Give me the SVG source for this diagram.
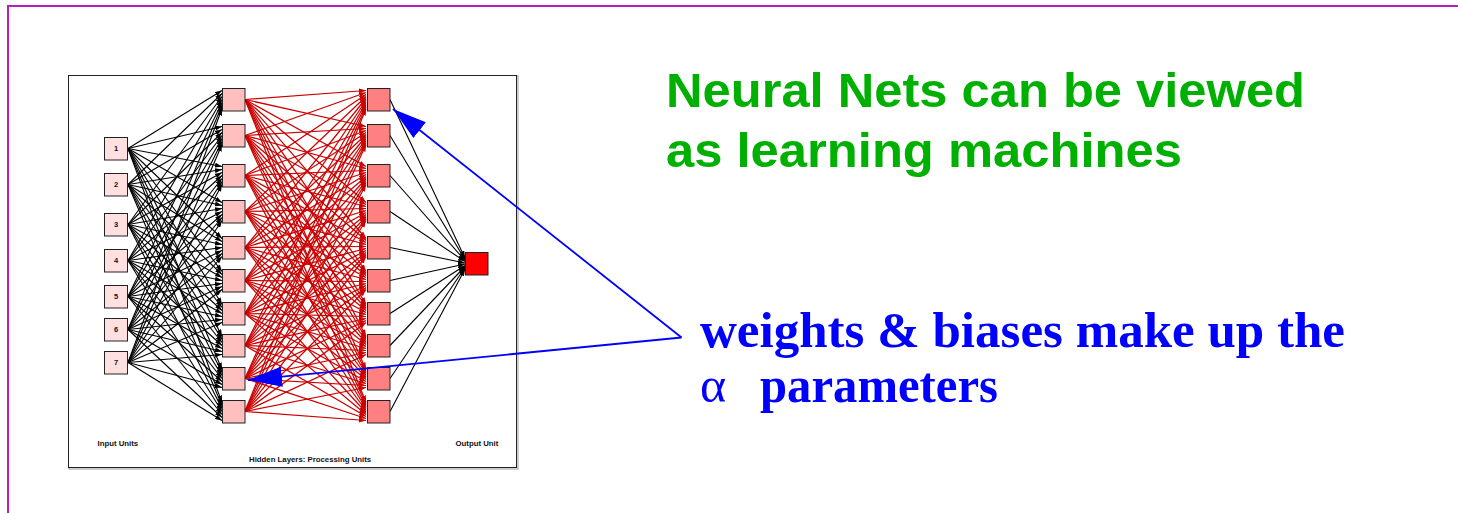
<svg xmlns="http://www.w3.org/2000/svg" width="1458" height="513" viewBox="0 0 1458 513">
<style>
.bl{stroke:#000;stroke-width:1.1;marker-end:url(#ab)}
.rd{stroke:#cc0000;stroke-width:1.25;marker-end:url(#ar)}
.in rect{fill:#ffe0e0;stroke:#222;stroke-width:1}
.h1 rect{fill:#ffbfbf;stroke:#222;stroke-width:1}
.h2 rect{fill:#ff8080;stroke:#222;stroke-width:1}
.num{font-family:"Liberation Sans",Arial,sans-serif;font-weight:bold;font-size:7.5px;fill:#111;text-anchor:middle}
.lab{font-family:"Liberation Sans",Arial,sans-serif;font-weight:bold;font-size:7.8px;fill:#111}
.title{font-family:"Liberation Sans",Arial,sans-serif;font-weight:bold;font-size:49px;fill:#00b000}
.blue{font-family:"Liberation Serif","Times New Roman",serif;font-weight:bold;font-size:50px;fill:#0000ff}
.ba{stroke:#0000ff;stroke-width:1.8;fill:none;marker-end:url(#abig)}
</style>
<defs>
<marker id="ab" markerUnits="userSpaceOnUse" markerWidth="7" markerHeight="5" refX="7" refY="2.5" orient="auto"><path d="M0,0L7,2.5L0,5z" fill="#000"/></marker>
<marker id="ar" markerUnits="userSpaceOnUse" markerWidth="7" markerHeight="5" refX="7" refY="2.5" orient="auto"><path d="M0,0L7,2.5L0,5z" fill="#cc0000"/></marker>
<marker id="abig" markerUnits="userSpaceOnUse" markerWidth="34" markerHeight="20" refX="34" refY="10" orient="auto"><path d="M0,0L34,10L0,20z" fill="#0000ff"/></marker>
</defs>
<rect width="1458" height="513" fill="#fff"/>
<rect x="8" y="6" width="1500" height="600" fill="none" stroke="#b81cc0" stroke-width="2"/>
<rect x="69" y="76" width="449" height="393" fill="none" stroke="#999" stroke-width="1"/>
<rect x="68.5" y="75.5" width="448" height="392" fill="#fff" stroke="#222" stroke-width="1"/>
<g id="connectors">
<g id="input-to-hidden">
<line class="bl" x1="128" y1="148.5" x2="222" y2="90.5"/><line class="bl" x1="128" y1="148.5" x2="222" y2="126.5"/><line class="bl" x1="128" y1="148.5" x2="222" y2="166.5"/><line class="bl" x1="128" y1="148.5" x2="222" y2="202.5"/><line class="bl" x1="128" y1="148.5" x2="222" y2="238.5"/><line class="bl" x1="128" y1="148.5" x2="222" y2="271.5"/><line class="bl" x1="128" y1="148.5" x2="222" y2="304.5"/><line class="bl" x1="128" y1="148.5" x2="222" y2="336.5"/><line class="bl" x1="128" y1="148.5" x2="222" y2="369.5"/><line class="bl" x1="128" y1="148.5" x2="222" y2="402.5"/>
<line class="bl" x1="128" y1="184.5" x2="222" y2="93.5"/><line class="bl" x1="128" y1="184.5" x2="222" y2="129.5"/><line class="bl" x1="128" y1="184.5" x2="222" y2="169.5"/><line class="bl" x1="128" y1="184.5" x2="222" y2="205.5"/><line class="bl" x1="128" y1="184.5" x2="222" y2="241.5"/><line class="bl" x1="128" y1="184.5" x2="222" y2="274.5"/><line class="bl" x1="128" y1="184.5" x2="222" y2="307.5"/><line class="bl" x1="128" y1="184.5" x2="222" y2="339.5"/><line class="bl" x1="128" y1="184.5" x2="222" y2="372.5"/><line class="bl" x1="128" y1="184.5" x2="222" y2="405.5"/>
<line class="bl" x1="128" y1="224.5" x2="222" y2="96.5"/><line class="bl" x1="128" y1="224.5" x2="222" y2="132.5"/><line class="bl" x1="128" y1="224.5" x2="222" y2="172.5"/><line class="bl" x1="128" y1="224.5" x2="222" y2="208.5"/><line class="bl" x1="128" y1="224.5" x2="222" y2="244.5"/><line class="bl" x1="128" y1="224.5" x2="222" y2="277.5"/><line class="bl" x1="128" y1="224.5" x2="222" y2="310.5"/><line class="bl" x1="128" y1="224.5" x2="222" y2="342.5"/><line class="bl" x1="128" y1="224.5" x2="222" y2="375.5"/><line class="bl" x1="128" y1="224.5" x2="222" y2="408.5"/>
<line class="bl" x1="128" y1="260.5" x2="222" y2="99.5"/><line class="bl" x1="128" y1="260.5" x2="222" y2="135.5"/><line class="bl" x1="128" y1="260.5" x2="222" y2="175.5"/><line class="bl" x1="128" y1="260.5" x2="222" y2="211.5"/><line class="bl" x1="128" y1="260.5" x2="222" y2="247.5"/><line class="bl" x1="128" y1="260.5" x2="222" y2="280.5"/><line class="bl" x1="128" y1="260.5" x2="222" y2="313.5"/><line class="bl" x1="128" y1="260.5" x2="222" y2="345.5"/><line class="bl" x1="128" y1="260.5" x2="222" y2="378.5"/><line class="bl" x1="128" y1="260.5" x2="222" y2="411.5"/>
<line class="bl" x1="128" y1="296.5" x2="222" y2="102.5"/><line class="bl" x1="128" y1="296.5" x2="222" y2="138.5"/><line class="bl" x1="128" y1="296.5" x2="222" y2="178.5"/><line class="bl" x1="128" y1="296.5" x2="222" y2="214.5"/><line class="bl" x1="128" y1="296.5" x2="222" y2="250.5"/><line class="bl" x1="128" y1="296.5" x2="222" y2="283.5"/><line class="bl" x1="128" y1="296.5" x2="222" y2="316.5"/><line class="bl" x1="128" y1="296.5" x2="222" y2="348.5"/><line class="bl" x1="128" y1="296.5" x2="222" y2="381.5"/><line class="bl" x1="128" y1="296.5" x2="222" y2="414.5"/>
<line class="bl" x1="128" y1="329.5" x2="222" y2="105.5"/><line class="bl" x1="128" y1="329.5" x2="222" y2="141.5"/><line class="bl" x1="128" y1="329.5" x2="222" y2="181.5"/><line class="bl" x1="128" y1="329.5" x2="222" y2="217.5"/><line class="bl" x1="128" y1="329.5" x2="222" y2="253.5"/><line class="bl" x1="128" y1="329.5" x2="222" y2="286.5"/><line class="bl" x1="128" y1="329.5" x2="222" y2="319.5"/><line class="bl" x1="128" y1="329.5" x2="222" y2="351.5"/><line class="bl" x1="128" y1="329.5" x2="222" y2="384.5"/><line class="bl" x1="128" y1="329.5" x2="222" y2="417.5"/>
<line class="bl" x1="128" y1="362.5" x2="222" y2="108.5"/><line class="bl" x1="128" y1="362.5" x2="222" y2="144.5"/><line class="bl" x1="128" y1="362.5" x2="222" y2="184.5"/><line class="bl" x1="128" y1="362.5" x2="222" y2="220.5"/><line class="bl" x1="128" y1="362.5" x2="222" y2="256.5"/><line class="bl" x1="128" y1="362.5" x2="222" y2="289.5"/><line class="bl" x1="128" y1="362.5" x2="222" y2="322.5"/><line class="bl" x1="128" y1="362.5" x2="222" y2="354.5"/><line class="bl" x1="128" y1="362.5" x2="222" y2="387.5"/><line class="bl" x1="128" y1="362.5" x2="222" y2="420.5"/>
</g>
<g id="hidden-to-hidden">
<line class="rd" x1="245" y1="99.5" x2="366" y2="90.5"/><line class="rd" x1="245" y1="99.5" x2="366" y2="126.5"/><line class="rd" x1="245" y1="99.5" x2="366" y2="166.5"/><line class="rd" x1="245" y1="99.5" x2="366" y2="202.5"/><line class="rd" x1="245" y1="99.5" x2="366" y2="238.5"/><line class="rd" x1="245" y1="99.5" x2="366" y2="271.5"/><line class="rd" x1="245" y1="99.5" x2="366" y2="304.5"/><line class="rd" x1="245" y1="99.5" x2="366" y2="336.5"/><line class="rd" x1="245" y1="99.5" x2="366" y2="369.5"/><line class="rd" x1="245" y1="99.5" x2="366" y2="402.5"/>
<line class="rd" x1="245" y1="135.5" x2="366" y2="92.5"/><line class="rd" x1="245" y1="135.5" x2="366" y2="128.5"/><line class="rd" x1="245" y1="135.5" x2="366" y2="168.5"/><line class="rd" x1="245" y1="135.5" x2="366" y2="204.5"/><line class="rd" x1="245" y1="135.5" x2="366" y2="240.5"/><line class="rd" x1="245" y1="135.5" x2="366" y2="273.5"/><line class="rd" x1="245" y1="135.5" x2="366" y2="306.5"/><line class="rd" x1="245" y1="135.5" x2="366" y2="338.5"/><line class="rd" x1="245" y1="135.5" x2="366" y2="371.5"/><line class="rd" x1="245" y1="135.5" x2="366" y2="404.5"/>
<line class="rd" x1="245" y1="175.5" x2="366" y2="94.5"/><line class="rd" x1="245" y1="175.5" x2="366" y2="130.5"/><line class="rd" x1="245" y1="175.5" x2="366" y2="170.5"/><line class="rd" x1="245" y1="175.5" x2="366" y2="206.5"/><line class="rd" x1="245" y1="175.5" x2="366" y2="242.5"/><line class="rd" x1="245" y1="175.5" x2="366" y2="275.5"/><line class="rd" x1="245" y1="175.5" x2="366" y2="308.5"/><line class="rd" x1="245" y1="175.5" x2="366" y2="340.5"/><line class="rd" x1="245" y1="175.5" x2="366" y2="373.5"/><line class="rd" x1="245" y1="175.5" x2="366" y2="406.5"/>
<line class="rd" x1="245" y1="211.5" x2="366" y2="96.5"/><line class="rd" x1="245" y1="211.5" x2="366" y2="132.5"/><line class="rd" x1="245" y1="211.5" x2="366" y2="172.5"/><line class="rd" x1="245" y1="211.5" x2="366" y2="208.5"/><line class="rd" x1="245" y1="211.5" x2="366" y2="244.5"/><line class="rd" x1="245" y1="211.5" x2="366" y2="277.5"/><line class="rd" x1="245" y1="211.5" x2="366" y2="310.5"/><line class="rd" x1="245" y1="211.5" x2="366" y2="342.5"/><line class="rd" x1="245" y1="211.5" x2="366" y2="375.5"/><line class="rd" x1="245" y1="211.5" x2="366" y2="408.5"/>
<line class="rd" x1="245" y1="247.5" x2="366" y2="98.5"/><line class="rd" x1="245" y1="247.5" x2="366" y2="134.5"/><line class="rd" x1="245" y1="247.5" x2="366" y2="174.5"/><line class="rd" x1="245" y1="247.5" x2="366" y2="210.5"/><line class="rd" x1="245" y1="247.5" x2="366" y2="246.5"/><line class="rd" x1="245" y1="247.5" x2="366" y2="279.5"/><line class="rd" x1="245" y1="247.5" x2="366" y2="312.5"/><line class="rd" x1="245" y1="247.5" x2="366" y2="344.5"/><line class="rd" x1="245" y1="247.5" x2="366" y2="377.5"/><line class="rd" x1="245" y1="247.5" x2="366" y2="410.5"/>
<line class="rd" x1="245" y1="280.5" x2="366" y2="100.5"/><line class="rd" x1="245" y1="280.5" x2="366" y2="136.5"/><line class="rd" x1="245" y1="280.5" x2="366" y2="176.5"/><line class="rd" x1="245" y1="280.5" x2="366" y2="212.5"/><line class="rd" x1="245" y1="280.5" x2="366" y2="248.5"/><line class="rd" x1="245" y1="280.5" x2="366" y2="281.5"/><line class="rd" x1="245" y1="280.5" x2="366" y2="314.5"/><line class="rd" x1="245" y1="280.5" x2="366" y2="346.5"/><line class="rd" x1="245" y1="280.5" x2="366" y2="379.5"/><line class="rd" x1="245" y1="280.5" x2="366" y2="412.5"/>
<line class="rd" x1="245" y1="313.5" x2="366" y2="102.5"/><line class="rd" x1="245" y1="313.5" x2="366" y2="138.5"/><line class="rd" x1="245" y1="313.5" x2="366" y2="178.5"/><line class="rd" x1="245" y1="313.5" x2="366" y2="214.5"/><line class="rd" x1="245" y1="313.5" x2="366" y2="250.5"/><line class="rd" x1="245" y1="313.5" x2="366" y2="283.5"/><line class="rd" x1="245" y1="313.5" x2="366" y2="316.5"/><line class="rd" x1="245" y1="313.5" x2="366" y2="348.5"/><line class="rd" x1="245" y1="313.5" x2="366" y2="381.5"/><line class="rd" x1="245" y1="313.5" x2="366" y2="414.5"/>
<line class="rd" x1="245" y1="345.5" x2="366" y2="104.5"/><line class="rd" x1="245" y1="345.5" x2="366" y2="140.5"/><line class="rd" x1="245" y1="345.5" x2="366" y2="180.5"/><line class="rd" x1="245" y1="345.5" x2="366" y2="216.5"/><line class="rd" x1="245" y1="345.5" x2="366" y2="252.5"/><line class="rd" x1="245" y1="345.5" x2="366" y2="285.5"/><line class="rd" x1="245" y1="345.5" x2="366" y2="318.5"/><line class="rd" x1="245" y1="345.5" x2="366" y2="350.5"/><line class="rd" x1="245" y1="345.5" x2="366" y2="383.5"/><line class="rd" x1="245" y1="345.5" x2="366" y2="416.5"/>
<line class="rd" x1="245" y1="378.5" x2="366" y2="106.5"/><line class="rd" x1="245" y1="378.5" x2="366" y2="142.5"/><line class="rd" x1="245" y1="378.5" x2="366" y2="182.5"/><line class="rd" x1="245" y1="378.5" x2="366" y2="218.5"/><line class="rd" x1="245" y1="378.5" x2="366" y2="254.5"/><line class="rd" x1="245" y1="378.5" x2="366" y2="287.5"/><line class="rd" x1="245" y1="378.5" x2="366" y2="320.5"/><line class="rd" x1="245" y1="378.5" x2="366" y2="352.5"/><line class="rd" x1="245" y1="378.5" x2="366" y2="385.5"/><line class="rd" x1="245" y1="378.5" x2="366" y2="418.5"/>
<line class="rd" x1="245" y1="411.5" x2="366" y2="108.5"/><line class="rd" x1="245" y1="411.5" x2="366" y2="144.5"/><line class="rd" x1="245" y1="411.5" x2="366" y2="184.5"/><line class="rd" x1="245" y1="411.5" x2="366" y2="220.5"/><line class="rd" x1="245" y1="411.5" x2="366" y2="256.5"/><line class="rd" x1="245" y1="411.5" x2="366" y2="289.5"/><line class="rd" x1="245" y1="411.5" x2="366" y2="322.5"/><line class="rd" x1="245" y1="411.5" x2="366" y2="354.5"/><line class="rd" x1="245" y1="411.5" x2="366" y2="387.5"/><line class="rd" x1="245" y1="411.5" x2="366" y2="420.5"/>
</g>
<g id="hidden-to-output">
<line class="bl" x1="390" y1="99.5" x2="465" y2="258"/><line class="bl" x1="390" y1="135.5" x2="465" y2="259.5"/><line class="bl" x1="390" y1="175.5" x2="465" y2="260.5"/><line class="bl" x1="390" y1="211.5" x2="465" y2="261.5"/><line class="bl" x1="390" y1="247.5" x2="465" y2="263"/><line class="bl" x1="390" y1="280.5" x2="465" y2="264"/><line class="bl" x1="390" y1="313.5" x2="465" y2="265.5"/><line class="bl" x1="390" y1="345.5" x2="465" y2="266.5"/><line class="bl" x1="390" y1="378.5" x2="465" y2="267.5"/><line class="bl" x1="390" y1="411.5" x2="465" y2="269"/>
</g>
</g>
<g id="input-units" class="in">
<g id="in1"><rect x="104.5" y="137.5" width="23" height="22.5"/><text class="num" x="116" y="151.3">1</text></g>
<g id="in2"><rect x="104.5" y="173.5" width="23" height="22.5"/><text class="num" x="116" y="187.3">2</text></g>
<g id="in3"><rect x="104.5" y="213.5" width="23" height="22.5"/><text class="num" x="116" y="227.3">3</text></g>
<g id="in4"><rect x="104.5" y="249.5" width="23" height="22.5"/><text class="num" x="116" y="263.3">4</text></g>
<g id="in5"><rect x="104.5" y="285.5" width="23" height="22.5"/><text class="num" x="116" y="299.3">5</text></g>
<g id="in6"><rect x="104.5" y="318.5" width="23" height="22.5"/><text class="num" x="116" y="332.3">6</text></g>
<g id="in7"><rect x="104.5" y="351.5" width="23" height="22.5"/><text class="num" x="116" y="365.3">7</text></g>
</g>
<g id="hidden-layer-1" class="h1">
<rect id="h1-1" x="222.5" y="88.5" width="22.5" height="22.5"/>
<rect id="h1-2" x="222.5" y="124.5" width="22.5" height="22.5"/>
<rect id="h1-3" x="222.5" y="164.5" width="22.5" height="22.5"/>
<rect id="h1-4" x="222.5" y="200.5" width="22.5" height="22.5"/>
<rect id="h1-5" x="222.5" y="236.5" width="22.5" height="22.5"/>
<rect id="h1-6" x="222.5" y="269.5" width="22.5" height="22.5"/>
<rect id="h1-7" x="222.5" y="302.5" width="22.5" height="22.5"/>
<rect id="h1-8" x="222.5" y="334.5" width="22.5" height="22.5"/>
<rect id="h1-9" x="222.5" y="367.5" width="22.5" height="22.5"/>
<rect id="h1-10" x="222.5" y="400.5" width="22.5" height="22.5"/>
</g>
<g id="hidden-layer-2" class="h2">
<rect id="h2-1" x="367.5" y="88.5" width="22.5" height="22.5"/>
<rect id="h2-2" x="367.5" y="124.5" width="22.5" height="22.5"/>
<rect id="h2-3" x="367.5" y="164.5" width="22.5" height="22.5"/>
<rect id="h2-4" x="367.5" y="200.5" width="22.5" height="22.5"/>
<rect id="h2-5" x="367.5" y="236.5" width="22.5" height="22.5"/>
<rect id="h2-6" x="367.5" y="269.5" width="22.5" height="22.5"/>
<rect id="h2-7" x="367.5" y="302.5" width="22.5" height="22.5"/>
<rect id="h2-8" x="367.5" y="334.5" width="22.5" height="22.5"/>
<rect id="h2-9" x="367.5" y="367.5" width="22.5" height="22.5"/>
<rect id="h2-10" x="367.5" y="400.5" width="22.5" height="22.5"/>
</g>
<g id="output-unit"><rect x="465.5" y="252.5" width="22.5" height="22.5" fill="#ff0000" stroke="#222" stroke-width="1"/></g>
<g id="labels">
<text class="lab" x="97.5" y="445.5">Input Units</text>
<text class="lab" x="249" y="462">Hidden Layers: Processing Units</text>
<text class="lab" x="455.5" y="445.5">Output Unit</text>
</g>
<g id="title">
<text class="title" x="666" y="106.7" textLength="639" lengthAdjust="spacingAndGlyphs">Neural Nets can be viewed</text>
<text class="title" x="666" y="167.3" textLength="516" lengthAdjust="spacingAndGlyphs">as learning machines</text>
</g>
<g id="callout">
<text class="blue" x="700" y="346.7" textLength="645" lengthAdjust="spacingAndGlyphs">weights &amp; biases make up the</text>
<text class="blue" x="700" y="402"><tspan font-weight="normal">α</tspan><tspan x="760" textLength="238" lengthAdjust="spacingAndGlyphs">parameters</tspan></text>
</g>
<g id="callout-arrows">
<line class="ba" x1="681.5" y1="337.5" x2="393" y2="109"/>
<line class="ba" x1="681.5" y1="337.5" x2="248" y2="380"/>
</g>
</svg>
